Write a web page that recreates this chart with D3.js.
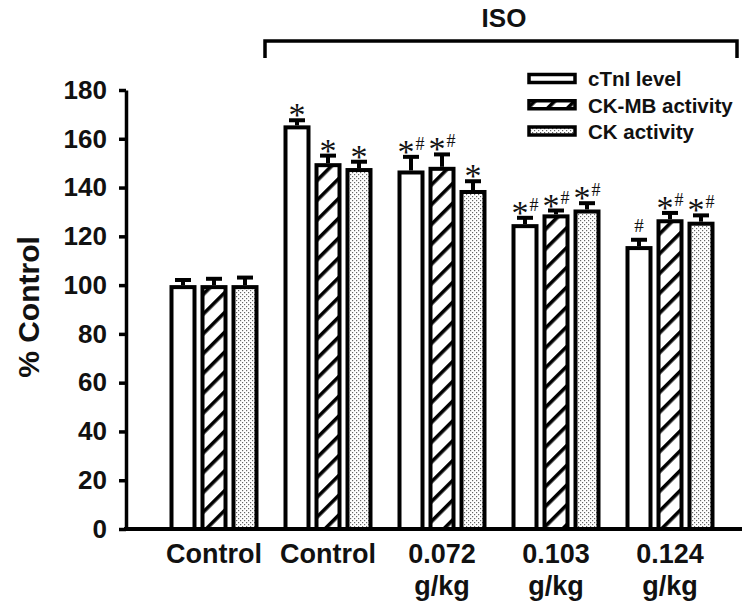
<!DOCTYPE html>
<html>
<head>
<meta charset="utf-8">
<script src="https://cdn.jsdelivr.net/npm/d3@7"></script>
<style>
  html, body { margin: 0; padding: 0; background: #fff; }
  svg { display: block; }
</style>
</head>
<body>
<svg id="chart" width="756" height="604"></svg>
<script>
// ---- data ----
const groupIds = ["ctrl", "iso", "d072", "d103", "d124"];
const labelLine1 = ["Control", "Control", "0.072", "0.103", "0.124"];
const labelLine2 = ["", "", "g/kg", "g/kg", "g/kg"];
const seriesNames = ["cTnI level", "CK-MB activity", "CK activity"];

const cTnIValues = [100, 165.5, 147, 125, 116];
const ckmbValues = [100, 150, 148.5, 129, 127];
const ckValues   = [100, 148, 139, 131, 126];

const cTnIErr = [2.5, 2.5, 6, 3, 3];
const ckmbErr = [3, 3.5, 5.5, 2, 3];
const ckErr   = [3.5, 3, 4, 3, 3];

const cTnISig = ["", "*", "*#", "*#", "#"];
const ckmbSig = ["", "*", "*#", "*#", "*#"];
const ckSig   = ["", "*", "*", "*#", "*#"];

const yTicks = [0, 20, 40, 60, 80, 100, 120, 140, 160, 180];
const yLabel = "% Control";
const bracketLabel = "ISO";

// ---- build table ----
const seriesValues = [cTnIValues, ckmbValues, ckValues];
const seriesErr = [cTnIErr, ckmbErr, ckErr];
const seriesSig = [cTnISig, ckmbSig, ckSig];
const rows = [];
groupIds.forEach((g, gi) => {
  seriesNames.forEach((s, si) => {
    rows.push({ group: g, series: s, si, value: seriesValues[si][gi], err: seriesErr[si][gi], sig: seriesSig[si][gi] });
  });
});

const svg = d3.select("#chart");
const defs = svg.append("defs");

// hatch pattern
const hatch = defs.append("pattern")
  .attr("id", "hatch").attr("patternUnits", "userSpaceOnUse")
  .attr("width", 14).attr("height", 14)
  .attr("patternTransform", "rotate(45)");
hatch.append("rect").attr("width", 14).attr("height", 14).attr("fill", "#fff");
hatch.append("rect").attr("x", 0).attr("y", 0).attr("width", 3.6).attr("height", 14).attr("fill", "#000");

// stipple pattern
const dots = defs.append("pattern")
  .attr("id", "dots").attr("patternUnits", "userSpaceOnUse")
  .attr("width", 4).attr("height", 4);
dots.append("rect").attr("width", 4).attr("height", 4).attr("fill", "#fff");
dots.append("rect").attr("x", 0).attr("y", 0).attr("width", 1.2).attr("height", 1.2).attr("fill", "#666");
dots.append("rect").attr("x", 2).attr("y", 2).attr("width", 1.2).attr("height", 1.2).attr("fill", "#666");

const fills = ["#fff", "url(#hatch)", "url(#dots)"];

// ---- scales ----
const y = d3.scaleLinear().domain([0, 180]).range([529, 90]);
const x0 = d3.scaleBand().domain(groupIds).range([157, 727]).padding(0);
const x1 = d3.scaleBand().domain(seriesNames).range([-46.5, 46.5]).padding(0);

const sw = 4;
const barW = 23;
const cx = d => x0(d.group) + x0.bandwidth() / 2 + x1(d.series) + x1.bandwidth() / 2;

// ---- bars ----
svg.append("g").selectAll("rect").data(rows).join("rect")
  .attr("x", d => cx(d) - barW / 2)
  .attr("y", d => y(d.value) + sw / 2)
  .attr("width", barW)
  .attr("height", d => y(0) - y(d.value) - sw / 2)
  .attr("fill", d => fills[d.si])
  .attr("stroke", "#000")
  .attr("stroke-width", sw);

// ---- error bars ----
const eb = svg.append("g").attr("stroke", "#000").attr("stroke-width", sw);
eb.selectAll("line.v").data(rows).join("line").attr("class", "v")
  .attr("x1", cx).attr("x2", cx)
  .attr("y1", d => y(d.value)).attr("y2", d => y(d.value + d.err));
eb.selectAll("line.c").data(rows).join("line").attr("class", "c")
  .attr("x1", d => cx(d) - 8).attr("x2", d => cx(d) + 8)
  .attr("y1", d => y(d.value + d.err) + 1).attr("y2", d => y(d.value + d.err) + 1);

// ---- significance marks ----
const sigG = svg.append("g").attr("fill", "#111");
rows.filter(d => d.sig).forEach(d => {
  const top = y(d.value + d.err) - 1;
  const t = sigG.append("text")
    .attr("x", cx(d))
    .attr("text-anchor", "middle");
  if (d.sig === "#") {
    t.attr("y", top - 6)
      .style("font-family", "'Liberation Serif', serif")
      .style("font-size", "19px")
      .text("#");
  } else {
    t.attr("y", top + 8);
    t.append("tspan")
      .style("font-family", "'Liberation Serif', serif")
      .style("font-size", "34px")
      .text("*");
    if (d.sig === "*#") {
      t.append("tspan")
        .attr("dy", -13)
        .attr("dx", 1)
        .style("font-family", "'Liberation Serif', serif")
        .style("font-size", "18px")
        .text("#");
    }
  }
});

// ---- axes ----
const yAxis = d3.axisLeft(y).tickValues(yTicks).tickSize(7).tickSizeOuter(0).tickPadding(12);
const yg = svg.append("g").attr("transform", "translate(126,0)").call(yAxis);
yg.select(".domain").attr("stroke", "#000").attr("stroke-width", 3.5);
yg.selectAll(".tick line").attr("stroke", "#000").attr("stroke-width", 3.5);
yg.selectAll(".tick text")
  .attr("fill", "#111")
  .style("font-family", "'Liberation Sans', Arial, sans-serif")
  .style("font-size", "26px")
  .style("font-weight", "bold");

// x baseline
svg.append("line")
  .attr("x1", 124).attr("x2", 742)
  .attr("y1", y(0)).attr("y2", y(0))
  .attr("stroke", "#000").attr("stroke-width", 4);

// x labels
const xl = svg.append("g")
  .style("font-family", "'Liberation Sans', Arial, sans-serif")
  .style("font-size", "27px")
  .style("font-weight", "bold")
  .attr("fill", "#111")
  .attr("text-anchor", "middle");
groupIds.forEach((g, i) => {
  const t = xl.append("text").attr("x", x0(g) + x0.bandwidth() / 2).attr("y", 563);
  t.append("tspan").text(labelLine1[i]);
  if (labelLine2[i]) {
    t.append("tspan").attr("x", x0(g) + x0.bandwidth() / 2).attr("dy", 32).text(labelLine2[i]);
  }
});

// y label
svg.append("text")
  .attr("transform", "translate(39,307) rotate(-90)")
  .attr("text-anchor", "middle")
  .attr("fill", "#111")
  .style("font-family", "'Liberation Sans', Arial, sans-serif")
  .style("font-size", "30px")
  .style("font-weight", "bold")
  .text(yLabel);

// ISO bracket
svg.append("path")
  .attr("d", d3.line()([[265, 58], [265, 41], [737, 41], [737, 58]]))
  .attr("fill", "none").attr("stroke", "#000").attr("stroke-width", 3.5);
svg.append("text")
  .attr("x", 504).attr("y", 27)
  .attr("text-anchor", "middle")
  .attr("fill", "#111")
  .style("font-family", "'Liberation Sans', Arial, sans-serif")
  .style("font-size", "26px")
  .style("font-weight", "bold")
  .text(bracketLabel);

// legend
const legY = d3.scalePoint().domain(seriesNames).range([78.5, 131]);
const leg = svg.append("g");
seriesNames.forEach((s, i) => {
  leg.append("rect")
    .attr("x", 529).attr("y", legY(s) - 4)
    .attr("width", 46).attr("height", 8)
    .attr("fill", fills[i]).attr("stroke", "#000").attr("stroke-width", 3.5);
  leg.append("text")
    .attr("x", 588).attr("y", legY(s))
    .attr("dy", "0.38em")
    .attr("fill", "#111")
    .style("font-family", "'Liberation Sans', Arial, sans-serif")
    .style("font-size", "20.5px")
    .style("font-weight", "bold")
    .text(s);
});
</script>
</body>
</html>
